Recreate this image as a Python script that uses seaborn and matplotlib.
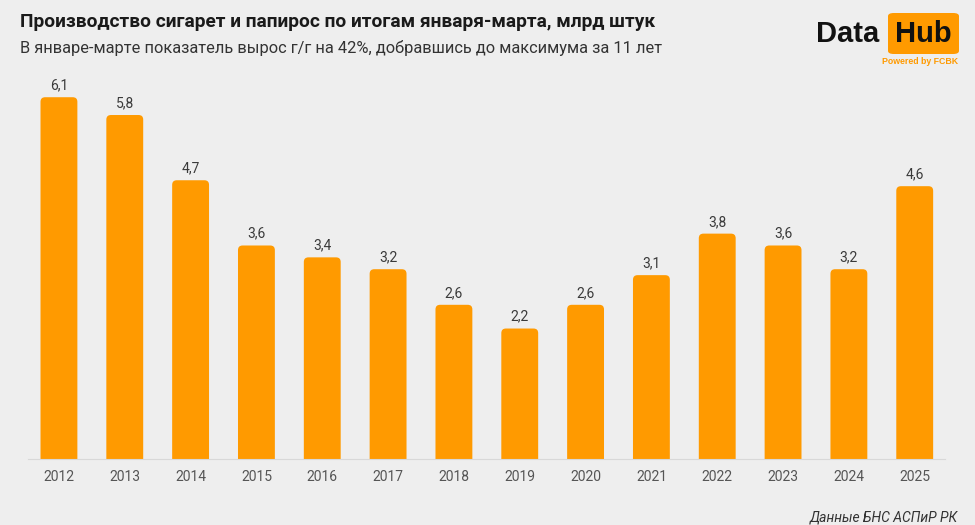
import seaborn as sns
import matplotlib.pyplot as plt
import pandas as pd
from matplotlib.patches import FancyBboxPatch

# data
years = ['2012', '2013', '2014', '2015', '2016', '2017', '2018',
         '2019', '2020', '2021', '2022', '2023', '2024', '2025']
values = [6.1, 5.8, 4.7, 3.6, 3.4, 3.2, 2.6, 2.2, 2.6, 3.1, 3.8, 3.6, 3.2, 4.6]

title = 'Производство сигарет и папирос по итогам января-марта, млрд штук'
subtitle = 'В январе-марте показатель вырос г/г на 42%, добравшись до максимума за 11 лет'
source = 'Данные БНС АСПиР РК'

bg = '#eeeeee'
orange = '#ff9a00'

sns.set_theme(style='white')
plt.rcParams['font.family'] = ['Roboto', 'DejaVu Sans']

df = pd.DataFrame({'year': years, 'value': values})

fig = plt.figure(figsize=(9.75, 5.25), dpi=100, facecolor=bg)
ax = fig.add_axes([28 / 975, 66 / 525, 917 / 975, 385.5 / 525])
ax.set_facecolor(bg)

sns.barplot(data=df, x='year', y='value', color=orange, width=0.56,
            saturation=1, ax=ax)

# swap plain bars for ones with rounded tops
for p in list(ax.patches):
    x, w, h = p.get_x(), p.get_width(), p.get_height()
    p.set_visible(False)
    ax.add_patch(FancyBboxPatch((x, -0.3), w, h + 0.3,
                                boxstyle='round,pad=0,rounding_size=0.07',
                                mutation_aspect=1.1, fc=orange, ec='none'))
    ax.text(x + w / 2, h + 0.08, f'{h:.1f}'.replace('.', ','),
            ha='center', va='bottom', fontsize=10, color='#3a3a3a')

ax.set_xlim(-0.47, 13.46)
ax.set_ylim(0, 6.5)
ax.set_xlabel('')
ax.set_ylabel('')
ax.set_yticks([])
for s in ['top', 'right', 'left']:
    ax.spines[s].set_visible(False)
ax.spines['bottom'].set_color('#d8d8d8')
ax.spines['bottom'].set_linewidth(0.8)
ax.tick_params(axis='x', length=3, color='#bbbbbb', labelsize=10,
               labelcolor='#555555', pad=5)

fig.text(20 / 975, 1 - 22 / 525, title, fontsize=13.8, fontweight='bold',
         color='#1a1a1a', va='center', ha='left')
fig.text(20 / 975, 1 - 48 / 525, subtitle, fontsize=11.75, color='#333333',
         va='center', ha='left')

# logo
logo_font = ['Liberation Sans', 'DejaVu Sans']
fig.text(879 / 975, 1 - 34 / 525, 'Data', fontsize=21, fontweight='bold',
         family=logo_font, color='#111111', va='center', ha='right')
fig.patches.append(FancyBboxPatch((888 / 975, 1 - 54 / 525), 71 / 975, 41 / 525,
                                  boxstyle='round,pad=0,rounding_size=0.006',
                                  transform=fig.transFigure, fc=orange, ec='none'))
fig.text(923.5 / 975, 1 - 34 / 525, 'Hub', fontsize=21, fontweight='bold',
         family=logo_font, color='#111111', va='center', ha='center')
fig.text(958 / 975, 1 - 62 / 525, 'Powered by FCBK', fontsize=6.3,
         fontweight='bold', family=logo_font,
         color=orange, va='center', ha='right')

fig.text(958 / 975, 1 - 517 / 525, source, fontsize=10, style='italic',
         color='#333333', va='center', ha='right')

fig.savefig('out.png', dpi=100, facecolor=bg)
